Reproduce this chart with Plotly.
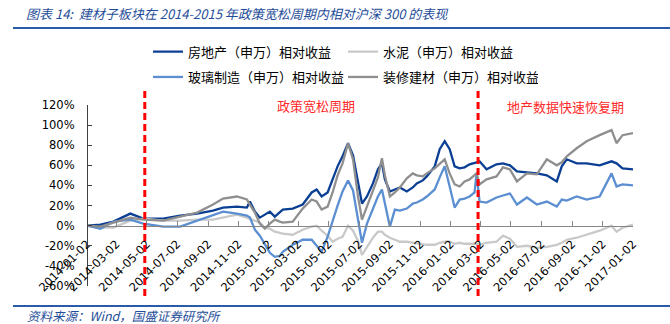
import plotly.graph_objects as go

# ---- data ----
dates = [
    "2014-01-02", "2014-01-29", "2014-02-24", "2014-03-30", "2014-04-25", "2014-06-04",
    "2014-07-08", "2014-08-11", "2014-09-12", "2014-10-02", "2014-10-30", "2014-11-19",
    "2014-11-25",
    "2014-12-05", "2014-12-15", "2014-12-25", "2015-01-04", "2015-01-14", "2015-01-24",
    "2015-01-30", "2015-02-19", "2015-03-11", "2015-03-29", "2015-04-08", "2015-04-18",
    "2015-04-30", "2015-05-10", "2015-05-20", "2015-05-30", "2015-06-10", "2015-06-20",
    "2015-06-30", "2015-07-08", "2015-07-18", "2015-07-30", "2015-08-09", "2015-08-17",
    "2015-08-23", "2015-09-02", "2015-09-12", "2015-09-22", "2015-10-06", "2015-10-18",
    "2015-10-26", "2015-11-07", "2015-11-15", "2015-12-01", "2015-12-11", "2015-12-21",
    "2015-12-31", "2016-01-10", "2016-01-20", "2016-01-30", "2016-02-09", "2016-02-19",
    "2016-02-23", "2016-02-29", "2016-03-14", "2016-04-03",
    "2016-04-16", "2016-04-30", "2016-05-14", "2016-06-03", "2016-06-23", "2016-07-13",
    "2016-08-02", "2016-08-12", "2016-08-22", "2016-09-11", "2016-10-01", "2016-10-27",
    "2016-11-20", "2016-11-30", "2016-12-12", "2017-01-02",
]
real_estate = [
    0, 1, 4, 12, 7, 7, 10, 12, 15, 18, 19, 18, 24,
    14, 8, 11, 14, 9, 13, 16, 17, 21, 33, 36, 29, 33, 46, 59, 69, 82, 70, 42, 22, 29, 42,
    56, 62, 46, 34, 36, 38, 34, 38, 42, 45, 49, 59, 76, 84, 76, 59, 57, 58, 61, 62, 63,
    64, 56, 61,
    62, 60, 54, 53, 52, 50, 44, 59, 66, 62, 62, 60, 64, 62, 57, 56,
]
cement = [
    0, -2, -2, 5, 7, 5, 5, 6, 6, 8, 11, 8, 7,
    5, 3, -2, -3, -6, -7, -8, -9, -4, -1, 0, -5, -10, -16, -13, -11, 0, -5, -15, -29, -21,
    -12, -6, -6, -9, -12, -14, -16, -16, -17, -17, -18, -19, -19, -17, -16, -16, -18, -17,
    -18, -18, -18, -18, -19, -17, -16,
    -10, -13, -21, -20, -22, -21, -19, -17, -14, -12, -9, -5, 0, -6, -2, 1,
]
glass = [
    0, -3, 4, 6, 2, -1, -1, 5, 11, 14, 12, 10, 8,
    -4, -10, -18, -27, -31, -30, -26, -19, -14, -14, -20, -26, -11, 5, 20, 34, 45, 35, 8,
    -17, 2, 17, 29, 36, 22, -1, 16, 15, 17, 22, 23, 26, 29, 36, 48, 59, 39, 18, 26, 27,
    29, 33, 52, 24, 23, 28,
    30, 32, 21, 28, 21, 24, 19, 26, 25, 29, 26, 29, 52, 39, 41, 40,
]
decoration = [
    0, -1, 3, 8, 6, 5, 9, 13, 21, 27, 29, 26, 21,
    13, 2, -3, 2, 6, 4, 3, 4, 17, 26, 24, 16, 19, 33, 50, 62, 82, 66, 29, 6, 19, 35, 48,
    67, 50, 29, 33, 38, 47, 52, 50, 49, 52, 57, 62, 66, 52, 41, 39, 44, 46, 50, 52, 41,
    46, 49,
    58, 56, 44, 52, 51, 66, 60, 63, 69, 77, 84, 90, 95, 82, 90, 92,
]

series_names = ["房地产（申万）相对收益", "水泥（申万）相对收益",
                "玻璃制造（申万）相对收益", "装修建材（申万）相对收益"]
series_colors = ["#0B3F94", "#C9C9C9", "#5B8FD1", "#8F8F8F"]

x_tick_vals = ["2014-01-02", "2014-03-02", "2014-05-02", "2014-07-02", "2014-09-02",
               "2014-11-02", "2015-01-02", "2015-03-02", "2015-05-02", "2015-07-02",
               "2015-09-02", "2015-11-02", "2016-01-02", "2016-03-02", "2016-05-02",
               "2016-07-02", "2016-09-02", "2016-11-02", "2017-01-02"]
y_tick_vals = [-60, -40, -20, 0, 20, 40, 60, 80, 100, 120]
y_tick_text = ["-60%", "-40%", "-20%", "0%", "20%", "40%", "60%", "80%", "100%", "120%"]

period_lines = ["2014-04-28", "2016-02-26"]
period_labels = ["政策宽松周期", "地产数据快速恢复期"]

title_text = "图表 14:  建材子板块在 2014-2015 年政策宽松周期内相对沪深 300 的表现"
source_text = "资料来源：Wind，国盛证券研究所"

# ---- figure ----
W, H = 670, 324
ML, MR, MT, MB = 87, 37, 105, 38
PW, PH = W - ML - MR, H - MT - MB


def px_x(px):
    return (px - ML) / PW


def px_y(py):
    return (H - MB - py) / PH


CJK = "Noto Sans CJK SC"
TICKFONT = dict(family="DejaVu Sans", size=11.5, color="#000000")

fig = go.Figure()
all_values = [real_estate, cement, glass, decoration]
legend_ids = ["legend", "legend", "legend2", "legend2"]
for name, vals, col, lg in zip(series_names, all_values, series_colors, legend_ids):
    fig.add_trace(go.Scatter(x=dates, y=vals, name=name, mode="lines",
                             line=dict(color=col, width=2.3), legend=lg))

legend_common = dict(orientation="h", xref="container", yref="container",
                     xanchor="left", yanchor="middle", entrywidth=150,
                     entrywidthmode="pixels", bgcolor="rgba(0,0,0,0)",
                     font=dict(family=CJK, size=13, color="#000000"),
                     itemclick=False)

fig.update_layout(
    width=W, height=H,
    margin=dict(l=ML, r=MR, t=MT, b=MB, autoexpand=False),
    paper_bgcolor="white", plot_bgcolor="white",
    showlegend=True,
    legend=dict(x=148 / W, y=1 - 51.7 / H, **legend_common),
    legend2=dict(x=148 / W, y=1 - 77 / H, **legend_common),
    xaxis=dict(type="date", range=["2014-01-02", "2017-01-02"],
               anchor="free", position=1 / 3,
               showline=True, linecolor="#868686", linewidth=1.3,
               ticks="inside", ticklen=5, tickcolor="#868686",
               tickvals=x_tick_vals, ticktext=x_tick_vals, tickangle=-45,
               tickfont=TICKFONT, ticklabelstandoff=6,
               showgrid=False, zeroline=False),
    yaxis=dict(range=[-60, 120], anchor="free", position=0,
               showline=True, linecolor="#404040", linewidth=1.2,
               ticks="inside", ticklen=4, tickcolor="#404040",
               tickvals=y_tick_vals, ticktext=y_tick_text,
               tickfont=TICKFONT, ticklabelstandoff=10,
               showgrid=False, zeroline=False),
)

shapes = []
for d in period_lines:
    shapes.append(dict(type="line", xref="x", yref="paper", x0=d, x1=d,
                       y0=px_y(296), y1=px_y(89),
                       line=dict(color="#FF0000", width=3, dash="7px,4px")))
for py in (28, 306):
    shapes.append(dict(type="line", xref="paper", yref="paper",
                       x0=px_x(13), x1=px_x(670), y0=px_y(py), y1=px_y(py),
                       line=dict(color="#2A5BA8", width=2)))
fig.update_layout(shapes=shapes)

annos = [
    dict(text=title_text, x=px_x(24), y=px_y(13), xanchor="left", yanchor="middle",
         font=dict(family=CJK, size=13, color="#1F4E9A", style="italic")),
    dict(text=source_text, x=px_x(25), y=px_y(315), xanchor="left", yanchor="middle",
         font=dict(family=CJK, size=12.5, color="#1F4E9A", style="italic")),
    dict(text=period_labels[0], x=px_x(316), y=px_y(105), xanchor="center", yanchor="middle",
         font=dict(family=CJK, size=13, color="#FF2A2A")),
    dict(text=period_labels[1], x=px_x(565), y=px_y(106.7), xanchor="center", yanchor="middle",
         font=dict(family=CJK, size=13, color="#FF2A2A")),
]
for a in annos:
    a.update(xref="paper", yref="paper", showarrow=False)
fig.update_layout(annotations=annos)

fig.write_html("out.html")
